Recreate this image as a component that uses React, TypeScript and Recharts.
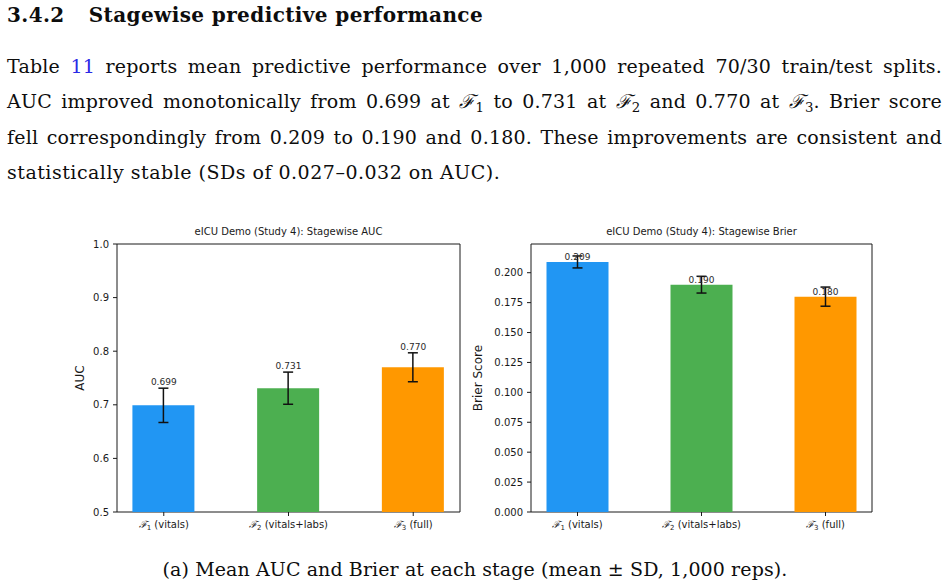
import {
  Bar,
  Cell,
  ComposedChart,
  ErrorBar,
  LabelList,
  ReferenceArea,
  Scatter,
  XAxis,
  YAxis
} from "recharts";

// stage positions on the x axis and their names
const stagePos = [0, 1, 2];
const stageNames = ["vitals", "vitals+labs", "full"];
const barColors = ["#2196F3", "#4CAF50", "#FF9800"];

const aucMean = [0.699, 0.731, 0.77];
const aucSd = [0.032, 0.03, 0.027];
const aucTicks = [0.5, 0.6, 0.7, 0.8, 0.9, 1.0];

const brierMean = [0.209, 0.19, 0.18];
const brierSd = [0.005, 0.007, 0.008];
const brierTicks = [0, 0.025, 0.05, 0.075, 0.1, 0.125, 0.15, 0.175, 0.2];

const xDomain = [-0.375, 2.375];
const ink = "#1a1a1a";
const sans = "'DejaVu Sans', sans-serif";
const serif = "'DejaVu Serif', serif";
const linkBlue = "#2a2ae6";

type Row = { pos: number; mean: number; sd: number; top: number };

const buildRows = (mean: number[], sd: number[]): Row[] =>
  stagePos.map((p, i) => ({ pos: p, mean: mean[i], sd: sd[i], top: mean[i] + sd[i] }));

const aucRows = buildRows(aucMean, aucSd);
const brierRows = buildRows(brierMean, brierSd);

function StageTick({ x, y, payload }: any) {
  const i = payload.value as number;
  return (
    <text x={x} y={y + 10} textAnchor="middle" fontSize={10} fill={ink} fontFamily={sans}>
      <tspan fontStyle="italic" fontFamily={serif}>ℱ</tspan>
      <tspan fontSize={7} dy={2}>{i + 1}</tspan>
      <tspan dy={-2}>{` (${stageNames[i]})`}</tspan>
    </text>
  );
}

const emptyShape = () => <g />;

type PanelProps = {
  left: number;
  width: number;
  title: string;
  yLabel: string;
  yLabelX: number;
  yAxisWidth: number;
  rightMargin: number;
  rows: Row[];
  domain: number[];
  ticks: number[];
  digits: number;
  labelKey: "top" | "mean";
  labelGap: number;
};

function Panel(props: PanelProps) {
  const {
    left,
    width,
    title,
    yLabel,
    yLabelX,
    yAxisWidth,
    rightMargin,
    rows,
    domain,
    ticks,
    digits,
    labelKey,
    labelGap
  } = props;
  const plotW = width - yAxisWidth - rightMargin;

  const valueLabel = (p: any) => {
    const vb = p.viewBox ?? p;
    const cx = vb.x + (vb.width ?? 0) / 2;
    const cy = vb.y + (vb.height ?? 0) / 2;
    const v = rows[p.index]?.mean ?? p.value;
    return (
      <text x={cx} y={cy - labelGap} textAnchor="middle" fontSize={9} fill="#2a2a2a" fontFamily={sans}>
        {Number(v).toFixed(3)}
      </text>
    );
  };

  return (
    <div style={{ position: "absolute", left, top: 220, width, height: 326 }}>
      <div
        style={{
          position: "absolute",
          left: yAxisWidth,
          top: 6,
          width: plotW,
          textAlign: "center",
          fontFamily: sans,
          fontSize: 10,
          lineHeight: "12px",
          color: ink
        }}
      >
        {title}
      </div>
      <ComposedChart
        width={width}
        height={326}
        data={rows}
        margin={{ top: 24, right: rightMargin, bottom: 0, left: 0 }}
      >
        <XAxis
          dataKey="pos"
          type="number"
          domain={xDomain}
          ticks={stagePos}
          allowDataOverflow
          axisLine={false}
          tickSize={4}
          tickLine={{ stroke: ink }}
          tick={<StageTick />}
          height={34}
        />
        <YAxis
          type="number"
          domain={domain}
          ticks={ticks}
          allowDataOverflow
          width={yAxisWidth}
          axisLine={false}
          tickSize={4}
          tickMargin={4}
          tickLine={{ stroke: ink }}
          tick={{ fill: ink, fontSize: 10, fontFamily: sans }}
          tickFormatter={(v: number) => v.toFixed(digits)}
          label={{
            content: ({ viewBox }: any) => {
              const cy = viewBox.y + viewBox.height / 2;
              return (
                <text
                  x={viewBox.x + yLabelX}
                  y={cy}
                  transform={`rotate(-90 ${viewBox.x + yLabelX} ${cy})`}
                  textAnchor="middle"
                  dominantBaseline="central"
                  fontSize={12}
                  fill={ink}
                  fontFamily={sans}
                >
                  {yLabel}
                </text>
              );
            }
          }}
        />
        <Bar dataKey="mean" barSize={62} isAnimationActive={false}>
          {rows.map((r, i) => (
            <Cell key={r.pos} fill={barColors[i]} />
          ))}
          <ErrorBar dataKey="sd" direction="y" width={5} stroke="#111" strokeWidth={1.5} />
        </Bar>
        <Scatter dataKey={labelKey} shape={emptyShape} isAnimationActive={false} legendType="none">
          <LabelList dataKey="mean" content={valueLabel} />
        </Scatter>
        <ReferenceArea
          x1={xDomain[0]}
          x2={xDomain[1]}
          y1={domain[0]}
          y2={domain[1]}
          fill="none"
          fillOpacity={0}
          stroke={ink}
          strokeWidth={1}
        />
      </ComposedChart>
    </div>
  );
}

const F = ({ n }: { n: number }) => (
  <span>
    <span style={{ fontStyle: "italic" }}>ℱ</span>
    <span style={{ fontSize: "0.7em", verticalAlign: "-0.3em", lineHeight: 0 }}>{n}</span>
  </span>
);

// body lines are broken by hand; the first three are spread to the full width
const lineStyle = (justify: boolean): React.CSSProperties => ({
  height: 35.3,
  lineHeight: "35.3px",
  whiteSpace: justify ? "normal" : "nowrap",
  textAlign: justify ? "justify" : "left",
  textAlignLast: justify ? "justify" : "left",
  letterSpacing: justify ? 0.2 : 0.5
});

export default function App() {
  return (
    <div
      style={{
        position: "absolute",
        left: 0,
        top: 0,
        width: 948,
        height: 588,
        background: "#fff",
        overflow: "hidden",
        fontFamily: serif,
        color: "#0d0d0d"
      }}
    >
      <div
        style={{
          position: "absolute",
          left: 7,
          top: 2,
          fontSize: 20,
          fontWeight: "bold",
          lineHeight: "26px",
          letterSpacing: 0.4
        }}
      >
        <span>3.4.2</span>
        <span style={{ marginLeft: 24 }}>Stagewise predictive performance</span>
      </div>

      <div style={{ position: "absolute", left: 7, top: 49, width: 935, fontSize: 19 }}>
        <div style={lineStyle(true)}>
          Table <span style={{ color: linkBlue }}>11</span> reports mean predictive performance over 1,000 repeated
          70/30 train/test splits.
        </div>
        <div style={lineStyle(true)}>
          AUC improved monotonically from 0.699 at <F n={1} /> to 0.731 at <F n={2} /> and 0.770 at <F n={3} />.
          Brier score
        </div>
        <div style={lineStyle(true)}>
          fell correspondingly from 0.209 to 0.190 and 0.180. These improvements are consistent and
        </div>
        <div style={lineStyle(false)}>statistically stable (SDs of 0.027–0.032 on AUC).</div>
      </div>

      <Panel
        left={60}
        width={410}
        title="eICU Demo (Study 4): Stagewise AUC"
        yLabel="AUC"
        yLabelX={20}
        yAxisWidth={57}
        rightMargin={10}
        rows={aucRows}
        domain={[0.5, 1.0]}
        ticks={aucTicks}
        digits={1}
        labelKey="top"
        labelGap={3}
      />
      <Panel
        left={465}
        width={417}
        title="eICU Demo (Study 4): Stagewise Brier"
        yLabel="Brier Score"
        yLabelX={13}
        yAxisWidth={66}
        rightMargin={10}
        rows={brierRows}
        domain={[0, 0.224]}
        ticks={brierTicks}
        digits={3}
        labelKey="mean"
        labelGap={2}
      />

      <div
        style={{
          position: "absolute",
          left: 0,
          top: 556,
          width: 950,
          textAlign: "center",
          fontSize: 19,
          lineHeight: "26px",
          letterSpacing: 0.1
        }}
      >
        (a) Mean AUC and Brier at each stage (mean ± SD, 1,000 reps).
      </div>
    </div>
  );
}
